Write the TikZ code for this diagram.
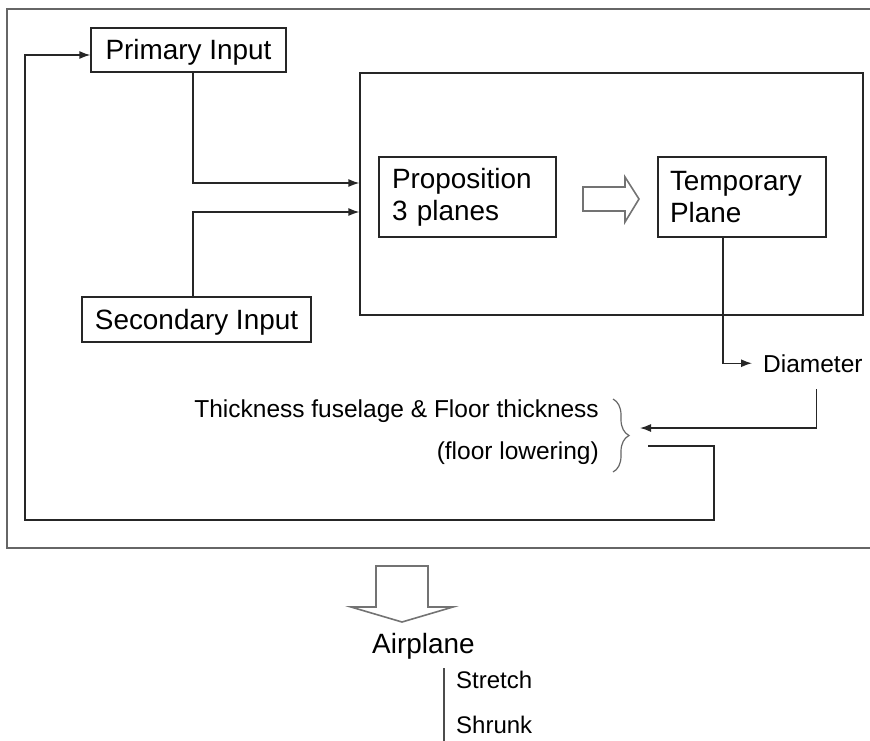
\documentclass[tikz,border=0pt]{standalone}
\usepackage{fontspec}
\setmainfont{Liberation Sans}
\usetikzlibrary{arrows.meta,decorations.pathreplacing,calc}
\begin{document}
\begin{tikzpicture}[x=1pt,y=-1pt,
  box/.style={draw=black!85, line width=1.3pt, inner sep=0pt},
  big/.style={font=\fontsize{27.9}{32}\selectfont},
  small/.style={font=\fontsize{24.5}{28}\selectfont},
  conn/.style={draw=black!85, line width=1.3pt},
  tip/.style={-{Latex[length=11pt,width=8pt]}},
  frame/.style={draw=black!60, line width=2pt},
  hollow/.style={draw=black!55, line width=1.6pt, line join=miter, fill=white}]
\useasboundingbox (0,0) rectangle (870,740);
% outer frame
\draw[frame] (875,9) -- (7,9) -- (7,548) -- (875,548);
% boxes
\node[box,big,minimum width=195pt,minimum height=44pt,text height=19.8pt,text depth=0pt] (prim) at (188.5,50) {Primary Input};
\node[box,big,minimum width=229pt,minimum height=45pt,text height=19.8pt,text depth=0pt] (sec) at (196.5,319.5) {Secondary Input};
\node[box,minimum width=503pt,minimum height=242pt] (model) at (611.5,194) {};
\node[box,big,minimum width=177pt,minimum height=80pt,align=left,text width=151pt] (prop) at (467.5,197) {Proposition\\3 planes};
\node[box,big,minimum width=168pt,minimum height=80pt,align=left,text width=144pt] (temp) at (742,197) {Temporary\\Plane};
% hollow arrow between
\draw[hollow] (583,187) -- (625,187) -- (625,177) -- (639,199) -- (625,222) -- (625,211) -- (583,211) -- cycle;
% diameter
\node[small,inner xsep=11pt,inner ysep=0pt,anchor=base west] (diam) at (752,372) {Diameter};
\draw[conn,tip] ($(temp.south)+(-19,0)$) |- (diam.west);
% thickness texts and brace
\node[small,anchor=base east,inner sep=0pt] (thick) at (599,417) {Thickness fuselage \& Floor thickness};
\node[small,anchor=base east,inner sep=0pt] (floor) at (599,459) {(floor lowering)};
\draw[draw=black!60,line width=1.2pt,decorate,decoration={brace,amplitude=16pt}] (613,399) -- (613,472);
\coordinate (bin) at (640,428);
\coordinate (bout) at (648,446);
\draw[conn,tip] ($(diam.south)+(3.5,17)$) |- (bin);
% feedback loop
\draw[conn,tip] (bout) -- (714,446) -- (714,520) -- (25,520) |- ($(prim.west)+(0,5)$);
% inputs
\draw[conn,tip] ($(prim.south)+(4.5,0)$) |- ($(model.west)+(0,-11)$);
\draw[conn,tip] ($(sec.north)+(-3.5,0)$) |- ($(model.west)+(0,18)$);
% down arrow
\draw[hollow] (376,566) -- (428,566) -- (428,607) -- (453,607) -- (402,622) -- (351,607) -- (376,607) -- cycle;
\node[big,anchor=base west,inner sep=0pt] (plane) at (372,653) {Airplane};
\coordinate (vtop) at (444,668);
\draw[draw=black!70,line width=1.2pt] (vtop) -- (444,742);
\node[font=\fontsize{24}{28}\selectfont,anchor=base west,inner sep=0pt] (stretch) at (456,688) {Stretch};
\node[font=\fontsize{24}{28}\selectfont,anchor=base west,inner sep=0pt] (shrunk) at (456,733) {Shrunk};
\end{tikzpicture}
\end{document}
